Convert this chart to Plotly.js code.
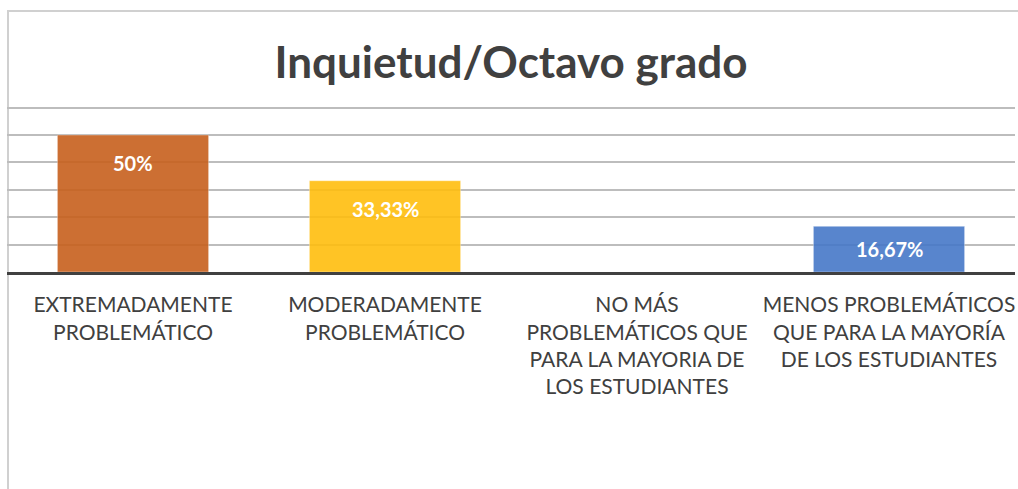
<!DOCTYPE html>
<html>
<head>
<meta charset="utf-8">
<script src="https://cdn.plot.ly/plotly-3.0.1.min.js"></script>
<style>
  html, body { margin: 0; padding: 0; background: #ffffff; overflow: hidden; }
  #frame { position: absolute; left: 7px; top: 10px; width: 1200px; height: 700px;
           border: 2px solid #d0d0d0; box-sizing: border-box; pointer-events: none; }
  #chart { position: absolute; left: 0; top: 0; width: 1018px; height: 489px; }
</style>
</head>
<body>
<div id="frame"></div>
<div id="chart"></div>
<script>
const categories = [
  "EXTREMADAMENTE<br>PROBLEMÁTICO",
  "MODERADAMENTE<br>PROBLEMÁTICO",
  "NO MÁS<br>PROBLEMÁTICOS QUE<br>PARA LA MAYORIA DE<br>LOS ESTUDIANTES",
  "MENOS PROBLEMÁTICOS<br>QUE PARA LA MAYORÍA<br>DE LOS ESTUDIANTES"
];
const values = [50, 33.33, 0, 16.67];
const valueLabels = ["50%", "33,33%", "", "16,67%"];
const barColors = ["#c7601d", "#ffbe0e", "#ffffff", "#4678c8"];

const W = 1018, H = 489;
const margin = { l: 7, r: 3, t: 105, b: 217 };
const yMax = 61;
const pxPerUnit = (H - margin.t - margin.b) / yMax;

const annotations = values.map((v, i) => ({
  x: categories[i], y: v, xref: 'x', yref: 'y',
  text: valueLabels[i] ? '<b>' + valueLabels[i] + '</b>' : '',
  showarrow: false, yanchor: 'middle',
  yshift: -Math.min(28, v * pxPerUnit / 2),
  font: { family: 'Lato, sans-serif', size: 20, color: '#ffffff' }
}));

const trace = {
  type: 'bar',
  x: categories,
  y: values,
  width: 0.6,
  marker: { color: barColors, opacity: 0.9, line: { color: 'rgba(255,255,255,0.35)', width: 1 } },
  hoverinfo: 'none'
};

const layout = {
  width: W, height: H,
  margin: margin,
  paper_bgcolor: 'rgba(0,0,0,0)',
  plot_bgcolor: 'rgba(0,0,0,0)',
  showlegend: false,
  title: {
    text: '<b>Inquietud/Octavo grado</b>',
    font: { family: 'Lato, sans-serif', size: 44, color: '#404040' },
    x: 0.5, xref: 'paper', xanchor: 'center',
    y: 1 - 63 / H, yref: 'container', yanchor: 'middle'
  },
  xaxis: {
    type: 'category',
    showgrid: false,
    showline: true, linecolor: '#404040', linewidth: 3,
    ticks: '',
    tickfont: { family: 'Lato, sans-serif', size: 21, color: '#404040' },
    ticklabelstandoff: 12,
    fixedrange: true
  },
  yaxis: {
    range: [0, yMax],
    dtick: 10,
    showticklabels: false,
    showgrid: true, gridcolor: '#bdbdbd', gridwidth: 2,
    zeroline: false,
    showline: false,
    fixedrange: true
  },
  annotations: annotations,
  bargap: 0.4
};

Plotly.newPlot('chart', [trace], layout, { displayModeBar: false, staticPlot: true });
</script>
</body>
</html>
